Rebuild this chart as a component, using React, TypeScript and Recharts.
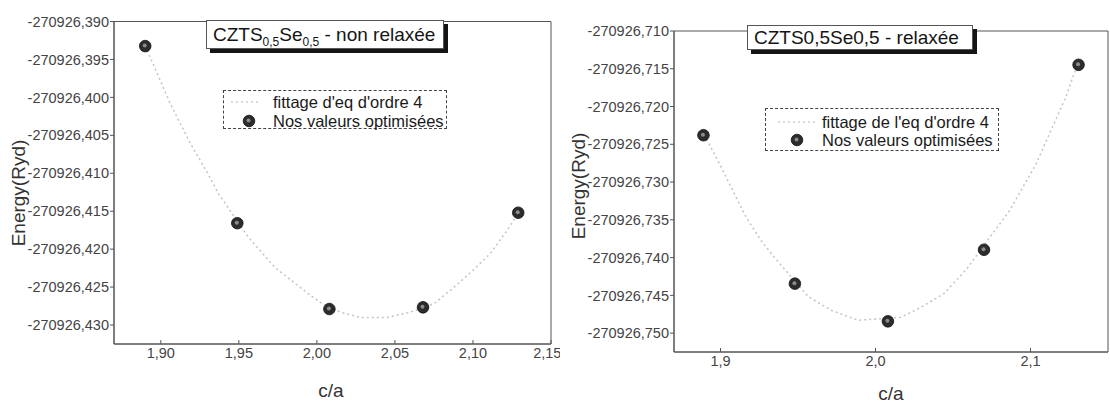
import React from 'react';
import { ScatterChart, Scatter, XAxis, YAxis, Legend, Label, ReferenceArea } from 'recharts';

// ---------- data ----------
const xTicksNR = [1.9, 1.95, 2.0, 2.05, 2.1, 2.15];
const yTicksNR = [-270926.39, -270926.395, -270926.4, -270926.405, -270926.41, -270926.415, -270926.42, -270926.425, -270926.43];
const xTicksR = [1.9, 2.0, 2.1];
const yTicksR = [-270926.71, -270926.715, -270926.72, -270926.725, -270926.73, -270926.735, -270926.74, -270926.745, -270926.75];

const nrPointX = [1.89, 1.949, 2.008, 2.068, 2.129];
const nrPointY = [-270926.39324, -270926.41658, -270926.42789, -270926.42767, -270926.4152];
const nrFitX = [1.89, 1.894, 1.906, 1.919, 1.93, 1.937, 1.956, 1.973, 1.994, 2.002, 2.015, 2.028, 2.045, 2.06, 2.075, 2.088, 2.1, 2.111, 2.122, 2.129];
const nrFitY = [-270926.3932, -270926.3951, -270926.4008, -270926.4061, -270926.41, -270926.4127, -270926.4184, -270926.4224, -270926.4258, -270926.427, -270926.4283, -270926.429, -270926.429, -270926.4283, -270926.4272, -270926.425, -270926.4228, -270926.4206, -270926.4175, -270926.4152];

const rPointX = [1.889, 1.948, 2.008, 2.07, 2.131];
const rPointY = [-270926.7238, -270926.74345, -270926.74844, -270926.73896, -270926.71448];
const rFitX = [1.889, 1.8925, 1.8994, 1.91, 1.9164, 1.926, 1.9345, 1.9568, 1.9717, 1.9887, 2.0163, 2.0291, 2.044, 2.0589, 2.0738, 2.0865, 2.1036, 2.1142, 2.1227, 2.128, 2.131];
const rFitY = [-270926.7238, -270926.7249, -270926.7276, -270926.732, -270926.7346, -270926.7377, -270926.7399, -270926.7452, -270926.747, -270926.7483, -270926.7479, -270926.7466, -270926.7448, -270926.7415, -270926.7373, -270926.7338, -270926.7276, -270926.7227, -270926.7188, -270926.7157, -270926.7145];

const fitNameNR = "fittage d'eq d'ordre 4";
const fitNameR = "fittage de l'eq d'ordre 4";
const pointsName = 'Nos valeurs optimisées';

const zip = (xs: number[], ys: number[]) => xs.map((x, i) => ({ x, y: ys[i] }));

const FONT = '"Liberation Sans", Arial, sans-serif';
const fmt = (v: number) => v.toFixed(3).replace('.', ',');
const fmtX = (d: number) => (v: number) => v.toFixed(d).replace('.', ',');

const Dot = (props: any) => {
  const { cx, cy } = props;
  if (cx == null || cy == null) return <g />;
  return (
    <g>
      <circle cx={cx} cy={cy} r={5.8} fill="#2c2c2c" stroke="#111" strokeWidth={0.8} />
      <circle cx={cx - 0.5} cy={cy - 0.5} r={2} fill="#8c8c8c" />
    </g>
  );
};
const NoShape = () => <g />;

type PanelProps = {
  left: number;
  width: number;
  margin: { top: number; right: number; bottom: number; left: number };
  yAxisWidth: number;
  xTicks: number[];
  xDigits: number;
  yTicks: number[];
  yDomain: [number, number];
  points: { x: number; y: number }[];
  fit: { x: number; y: number }[];
  fitName: string;
  title: React.ReactNode;
  titleBox: { left: number; top: number; width: number; height: number };
  legendBox: { left: number; top: number; width: number; height: number; textX: number; markX: number; lineX1: number; lineX2: number; row1: number; row2: number };
  yLabel: { x: number; y: number };
  xLabel: { x: number; y: number };
};

const Panel = (p: PanelProps) => {
  const lb = p.legendBox;
  const renderLegend = () => (
    <div style={{ position: 'relative', width: lb.width, height: lb.height, boxSizing: 'border-box', border: '1px dashed #444', background: '#fff', fontFamily: FONT, fontSize: 16.5, color: '#1a1a1a' }}>
      <svg width={lb.width} height={lb.height} style={{ position: 'absolute', left: -1, top: -1 }}>
        <line x1={lb.lineX1} x2={lb.lineX2} y1={lb.row1} y2={lb.row1} stroke="#d0d0d0" strokeWidth={1.5} strokeDasharray="2 3" />
        <Dot cx={lb.markX} cy={lb.row2} />
      </svg>
      <div style={{ position: 'absolute', left: lb.textX - 1, top: lb.row1 - 10, whiteSpace: 'nowrap', lineHeight: '19px' }}>{p.fitName}</div>
      <div style={{ position: 'absolute', left: lb.textX - 1, top: lb.row2 - 10, whiteSpace: 'nowrap', lineHeight: '19px' }}>{pointsName}</div>
    </div>
  );
  return (
    <div style={{ position: 'absolute', left: p.left, top: 0, width: p.width, height: 402 }}>
      <ScatterChart width={p.width} height={402} margin={p.margin} style={{ fontFamily: FONT }}>
        <XAxis
          dataKey="x"
          type="number"
          domain={[1.87, 2.15]}
          ticks={p.xTicks}
          tickFormatter={fmtX(p.xDigits)}
          allowDataOverflow
          height={30}
          stroke="#555"
          tickSize={-4}
          tickMargin={8}
          tick={{ fill: '#444', fontSize: 14.5 }}
        >
          <Label
            content={() => (
              <text x={p.xLabel.x} y={p.xLabel.y} textAnchor="middle" dominantBaseline="central" fontSize={19} fill="#333" fontFamily={FONT}>c/a</text>
            )}
          />
        </XAxis>
        <YAxis
          dataKey="y"
          type="number"
          domain={p.yDomain}
          ticks={p.yTicks}
          tickFormatter={fmt}
          allowDataOverflow
          width={p.yAxisWidth}
          stroke="#555"
          tickSize={4}
          tickMargin={1}
          tick={{ fill: '#444', fontSize: 14.5 }}
        >
          <Label
            content={() => (
              <text x={p.yLabel.x} y={p.yLabel.y} transform={`rotate(-90 ${p.yLabel.x} ${p.yLabel.y})`} textAnchor="middle" dominantBaseline="central" fontSize={19} fill="#333" fontFamily={FONT}>Energy(Ryd)</text>
            )}
          />
        </YAxis>
        <ReferenceArea x1={1.87} x2={2.15} y1={p.yDomain[0]} y2={p.yDomain[1]} fill="none" fillOpacity={0} stroke="#555" strokeWidth={1} ifOverflow="visible" />
        <Legend verticalAlign="middle" align="center" layout="horizontal" content={renderLegend}
          wrapperStyle={{ position: 'absolute', left: lb.left, top: lb.top, width: lb.width, height: lb.height }} />
        <Scatter name={p.fitName} data={p.fit} line={{ stroke: '#c4c4c4', strokeWidth: 1.5, strokeDasharray: '2 3' }} lineType="joint" shape={NoShape} isAnimationActive={false} />
        <Scatter name={pointsName} data={p.points} shape={Dot} isAnimationActive={false} />
      </ScatterChart>
      <div style={{ position: 'absolute', left: p.titleBox.left, top: p.titleBox.top, width: p.titleBox.width, height: p.titleBox.height, boxSizing: 'border-box', border: '1px solid #555', background: '#fff', boxShadow: '4px 4px 0 #151515', fontFamily: FONT, fontSize: 19, color: '#151515', lineHeight: `${p.titleBox.height - 2}px`, paddingLeft: 6, whiteSpace: 'nowrap' }}>
        {p.title}
      </div>
    </div>
  );
};

export default function App() {
  return (
    <div style={{ position: 'absolute', left: 0, top: 0, width: 1110, height: 402, background: '#fff', overflow: 'hidden' }}>
      <Panel
        left={0}
        width={560}
        margin={{ top: 21.5, right: 9, bottom: 28, left: 0 }}
        yAxisWidth={114}
        xTicks={xTicksNR}
        xDigits={2}
        yTicks={yTicksNR}
        yDomain={[-270926.4325, -270926.39]}
        points={zip(nrPointX, nrPointY)}
        fit={zip(nrFitX, nrFitY)}
        fitName={fitNameNR}
        title={<span>CZTS<sub style={{ fontSize: 12 }}>0,5</sub>Se<sub style={{ fontSize: 12 }}>0,5</sub> - non relaxée</span>}
        titleBox={{ left: 206, top: 20, width: 238, height: 29 }}
        legendBox={{ left: 223, top: 90, width: 224, height: 39, textX: 50, markX: 26, lineX1: 8, lineX2: 36, row1: 12, row2: 31 }}
        yLabel={{ x: 18, y: 193 }}
        xLabel={{ x: 331, y: 390 }}
      />
      <Panel
        left={555}
        width={555}
        margin={{ top: 31, right: 2, bottom: 20, left: 0 }}
        yAxisWidth={119}
        xTicks={xTicksR}
        xDigits={1}
        yTicks={yTicksR}
        yDomain={[-270926.7525, -270926.71]}
        points={zip(rPointX, rPointY)}
        fit={zip(rFitX, rFitY)}
        fitName={fitNameR}
        title={<span>CZTS0,5Se0,5 - relaxée</span>}
        titleBox={{ left: 192, top: 25, width: 226, height: 25 }}
        legendBox={{ left: 210, top: 108, width: 234, height: 43, textX: 57, markX: 32, lineX1: 13, lineX2: 52, row1: 14, row2: 32 }}
        yLabel={{ x: 23, y: 186 }}
        xLabel={{ x: 336, y: 393 }}
      />
    </div>
  );
}
